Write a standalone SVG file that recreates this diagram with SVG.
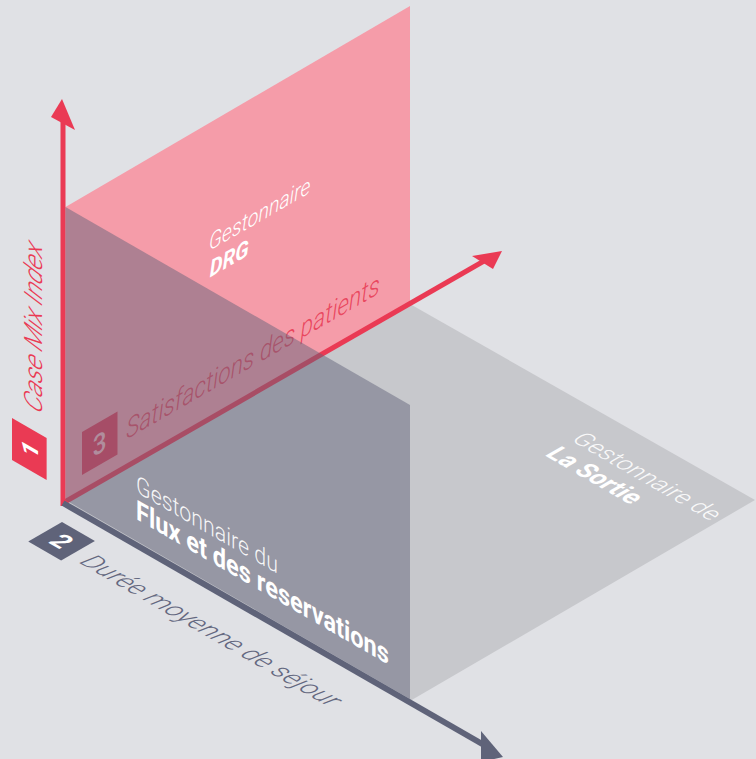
<svg xmlns="http://www.w3.org/2000/svg" width="756" height="759" viewBox="0 0 756 759">
<style>
text{font-family:Roboto,"Liberation Sans","DejaVu Sans",sans-serif}
.ax{fill:none;stroke-linecap:butt}
.red{stroke:#ea3a54}
.slate{stroke:#5f6379}
.lt{font-weight:300}
.bd{font-weight:700}
.it{font-style:italic}
.w{fill:#ffffff}
</style>
<rect x="0" y="0" width="756" height="759" fill="#e0e1e5"/>

<g id="node-sortie">
<polygon points="65,503 410,304 755,500 410,701" fill="#c7c8cc"/>
<g transform="matrix(0.866,0.5,-0.866,0.5,570,440)">
<text class="lt w" font-size="25" x="0" y="0" textLength="162" lengthAdjust="spacingAndGlyphs" fill-opacity="0.9">Gestonnaire de</text>
<text class="bd w" font-size="27" x="0" y="30" textLength="100" lengthAdjust="spacingAndGlyphs">La Sortie</text>
</g>
</g>

<g id="node-drg">
<polygon points="65.5,503 410,304 410,6 65.5,207" fill="#f59ca9"/>
<g transform="matrix(0.866,-0.5,0,1,209,251)">
<text class="lt it w" font-size="23" x="0" y="0" textLength="117" lengthAdjust="spacingAndGlyphs">Gestonnaire</text>
<text class="bd it w" font-size="23" x="1" y="27" textLength="45" lengthAdjust="spacingAndGlyphs">DRG</text>
</g>
</g>

<g id="connectors">
<line class="ax red" x1="63" y1="503" x2="484" y2="261" stroke-width="5"/>
<polygon points="502,251 472,256 493,269" fill="#ea3a54"/>
<line class="ax red" x1="63" y1="506" x2="63" y2="120" stroke-width="5"/>
<polygon points="62,99 75,130 51,117" fill="#ea3a54"/>
<line class="ax slate" x1="63" y1="503" x2="484" y2="745" stroke-width="6"/>
<polygon points="503,757 481,731 481,762" fill="#5f6379"/>
</g>

<g id="label-3">
<g transform="matrix(0.866,-0.5,0,1,82,432)">
<rect x="0" y="0" width="41" height="43" fill="#e63b56"/>
<text font-size="28" font-weight="500" x="20.5" y="31.5" text-anchor="middle" fill="#f9b4bf">3</text>
<text class="it" font-size="28" font-weight="300" x="51" y="33" textLength="293" lengthAdjust="spacingAndGlyphs" fill="#e83d56" fill-opacity="0.9">Satisfactions des patients</text>
</g>
</g>

<g id="label-1">
<g transform="matrix(0.866,0.5,0,1,12,418)">
<rect x="0" y="0" width="40" height="42" fill="#ea3a54"/>
<text class="bd w" font-size="26" transform="translate(20,21) rotate(-90)" x="0" y="9.5" text-anchor="middle">1</text>
</g>
<g transform="matrix(0.866,0.5,0,1,42,415) rotate(-90)">
<text class="lt it" font-size="29" x="0" y="0" textLength="168" lengthAdjust="spacingAndGlyphs" fill="#ea3a54">Case Mix Index</text>
</g>
</g>

<g id="label-2">
<g transform="matrix(0.866,0.5,-0.866,0.5,62,522)">
<rect x="0" y="0" width="38" height="39" fill="#5f6379"/>
<text class="bd w" font-size="26" x="19" y="28.5" text-anchor="middle">2</text>
<text class="lt it" font-size="26" x="50" y="31" textLength="290" lengthAdjust="spacingAndGlyphs" fill="#646880">Durée moyenne de séjour</text>
</g>
</g>

<g id="node-flux">
<polygon points="65.5,500 410,699 410,405 65.5,207" fill="#606379" fill-opacity="0.48"/>
<g transform="matrix(0.866,0.5,0,1,136,492)">
<text class="lt w" font-size="25" x="0" y="0" textLength="164" lengthAdjust="spacingAndGlyphs" fill-opacity="0.92">Gestonnaire du</text>
<text class="bd w" font-size="28" x="0" y="27" textLength="292" lengthAdjust="spacingAndGlyphs">Flux et des reservations</text>
</g>
</g>
</svg>
